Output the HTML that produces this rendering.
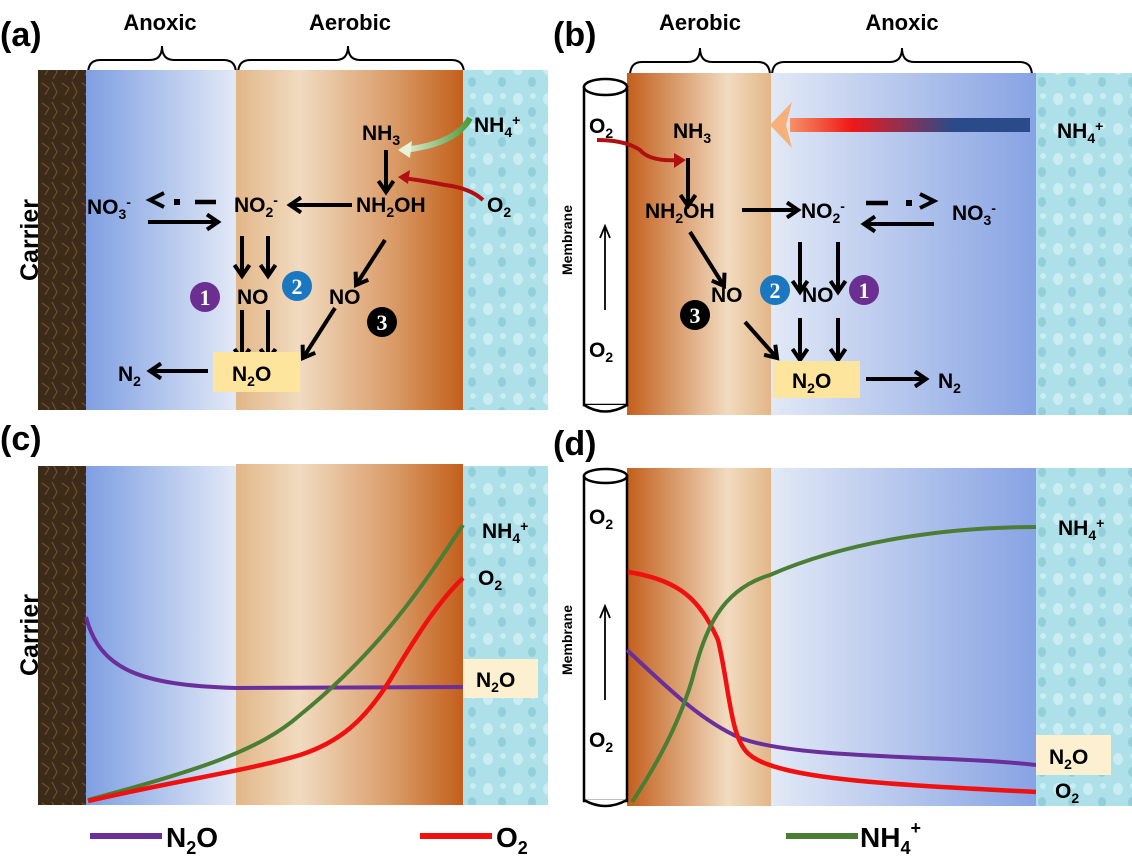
<!DOCTYPE html>
<html><head><meta charset="utf-8"><style>
html,body{margin:0;padding:0;background:#fff;}
svg{display:block;}
text{font-family:"Liberation Sans",Arial,sans-serif;font-weight:bold;fill:#000;}
</style></head><body>
<svg width="1132" height="866" viewBox="0 0 1132 866" xmlns="http://www.w3.org/2000/svg">
<defs>
<linearGradient id="blueA" x1="0" x2="1" y1="0" y2="0"><stop offset="0" stop-color="#7f9fe2"/><stop offset="1" stop-color="#e2e9f6"/></linearGradient>
<linearGradient id="blueB" x1="0" x2="1" y1="0" y2="0"><stop offset="0" stop-color="#e2e9f6"/><stop offset="1" stop-color="#87a3e4"/></linearGradient>
<linearGradient id="orA" x1="0" x2="1" y1="0" y2="0"><stop offset="0" stop-color="#e2b688"/><stop offset="0.28" stop-color="#f1dbc0"/><stop offset="0.7" stop-color="#d99a66"/><stop offset="1" stop-color="#c35f1c"/></linearGradient>
<linearGradient id="orB" x1="0" x2="1" y1="0" y2="0"><stop offset="0" stop-color="#c35f1c"/><stop offset="0.7" stop-color="#f1dbc0"/><stop offset="1" stop-color="#e2b688"/></linearGradient>
<linearGradient id="bigArr" gradientUnits="userSpaceOnUse" x1="775" x2="1030" y1="0" y2="0"><stop offset="0" stop-color="#f7b07a"/><stop offset="0.3" stop-color="#f01818"/><stop offset="0.7" stop-color="#2a4a8a"/><stop offset="1" stop-color="#2a4a8a"/></linearGradient>
<linearGradient id="grn" x1="1" x2="0" y1="0" y2="0"><stop offset="0" stop-color="#4a9a3a"/><stop offset="1" stop-color="#e8f2d8"/></linearGradient>
<pattern id="water" width="30" height="30" patternUnits="userSpaceOnUse">
<rect width="30" height="30" fill="#ade0e9"/>
<ellipse cx="8" cy="9" rx="5" ry="6" fill="#c9edf3"/><ellipse cx="22" cy="22" rx="4" ry="5" fill="#93cfdb"/><ellipse cx="23" cy="6" rx="3" ry="3" fill="#c9edf3"/>
</pattern>
<pattern id="bark" width="20" height="20" patternUnits="userSpaceOnUse">
<rect width="20" height="20" fill="#3e2a18"/><path d="M2 3 L9 8 L5 15 M12 2 L17 12 L13 19" stroke="#6a5034" stroke-width="1.2" fill="none"/>
</pattern>
<marker id="ah2" markerWidth="18" markerHeight="18" refX="13" refY="9" orient="auto" markerUnits="userSpaceOnUse">
<path d="M2 1.5 L13 9 L2 16.5" fill="none" stroke="#000" stroke-width="4"/>
</marker>
</defs>
<style>.a{stroke:#000;stroke-width:4;fill:none;marker-end:url(#ah2);} .sp{font-size:21px;} .sub{font-size:14px;}</style>

<!-- PANEL A -->
<text x="0" y="46" font-size="34">(a)</text>
<text x="160" y="30" font-size="22" text-anchor="middle">Anoxic</text>
<text x="350" y="30" font-size="22" text-anchor="middle">Aerobic</text>
<path d="M88 74 Q88 60 100 60 L150 60 Q162 60 162 46 Q162 60 174 60 L224 60 Q236 60 236 74" stroke="#000" stroke-width="2" fill="none"/>
<path d="M238 74 Q238 60 250 60 L336 60 Q348 60 348 46 Q348 60 360 60 L452 60 Q464 60 464 74" stroke="#000" stroke-width="2" fill="none"/>
<rect x="38" y="70" width="48" height="340" fill="url(#bark)"/>
<rect x="86" y="70" width="150" height="340" fill="url(#blueA)"/>
<rect x="236" y="70" width="227" height="340" fill="url(#orA)"/>
<rect x="463" y="70" width="85" height="340" fill="url(#water)"/>
<text transform="translate(38,240) rotate(-90)" font-size="25" text-anchor="middle">Carrier</text>
<text x="362" y="140" class="sp">NH<tspan class="sub" dy="5">3</tspan></text>
<text x="474" y="132" class="sp">NH<tspan class="sub" dy="5">4</tspan><tspan class="sub" dy="-12">+</tspan></text>
<text x="487" y="212" class="sp">O<tspan class="sub" dy="5">2</tspan></text>
<text x="356" y="212" class="sp">NH<tspan class="sub" dy="5">2</tspan><tspan dy="-5">OH</tspan></text>
<text x="234" y="212" class="sp">NO<tspan class="sub" dy="5">2</tspan><tspan class="sub" dy="-12">-</tspan></text>
<text x="87" y="214" class="sp">NO<tspan class="sub" dy="5">3</tspan><tspan class="sub" dy="-12">-</tspan></text>
<path d="M470 118 Q455 145 402 150" stroke="url(#grn)" stroke-width="6" fill="none"/>
<path d="M398 150 L412 141 L410 158 Z" fill="#e8f2d8"/>
<path d="M483 200 Q470 188 445 185 Q420 180 402 178" stroke="#b01010" stroke-width="4" fill="none"/>
<path d="M398 177 L410 170 L408 184 Z" fill="#b01010"/>
<line x1="386" y1="150" x2="386" y2="192" class="a"/>
<line x1="352" y1="205" x2="290" y2="205" class="a"/>
<line x1="148" y1="222" x2="218" y2="222" class="a"/>
<path d="M195 202 L216 202" stroke="#000" stroke-width="4.5"/>
<rect x="174" y="199" width="6" height="6" fill="#000"/>
<path d="M164 193 L150 200 L164 207" stroke="#000" stroke-width="4" fill="none"/>
<line x1="242" y1="236" x2="242" y2="276" class="a"/>
<line x1="268" y1="236" x2="268" y2="276" class="a"/>
<line x1="242" y1="310" x2="242" y2="360" class="a"/>
<line x1="268" y1="310" x2="268" y2="360" class="a"/>
<line x1="385" y1="240" x2="356" y2="285" class="a"/>
<line x1="335" y1="308" x2="303" y2="358" class="a"/>
<circle cx="205" cy="297" r="15" fill="#6a2f90"/><text x="205" y="305" font-size="22" text-anchor="middle" style="fill:#fff;font-family:'Liberation Serif',serif">1</text>
<circle cx="297" cy="286" r="15" fill="#1b77c0"/><text x="297" y="294" font-size="22" text-anchor="middle" style="fill:#fff;font-family:'Liberation Serif',serif">2</text>
<circle cx="382" cy="322" r="15" fill="#000"/><text x="382" y="330" font-size="22" text-anchor="middle" style="fill:#fff;font-family:'Liberation Serif',serif">3</text>
<text x="237" y="304" class="sp">NO</text>
<text x="329" y="304" class="sp">NO</text>
<rect x="213" y="352" width="87" height="40" fill="#fde59e"/>
<text x="232" y="381" class="sp">N<tspan class="sub" dy="5">2</tspan><tspan dy="-5">O</tspan></text>
<line x1="208" y1="371" x2="150" y2="371" class="a"/>
<text x="118" y="381" class="sp">N<tspan class="sub" dy="5">2</tspan></text>

<!-- PANEL B -->
<text x="553" y="46" font-size="34">(b)</text>
<text x="700" y="30" font-size="22" text-anchor="middle">Aerobic</text>
<text x="902" y="30" font-size="22" text-anchor="middle">Anoxic</text>
<path d="M630 76 Q630 62 642 62 L688 62 Q700 62 700 48 Q700 62 712 62 L758 62 Q770 62 770 76" stroke="#000" stroke-width="2" fill="none"/>
<path d="M772 76 Q772 62 784 62 L890 62 Q902 62 902 48 Q902 62 914 62 L1020 62 Q1032 62 1032 76" stroke="#000" stroke-width="2" fill="none"/>
<rect x="627" y="73" width="144" height="342" fill="url(#orB)"/>
<rect x="771" y="73" width="265" height="342" fill="url(#blueB)"/>
<rect x="1036" y="73" width="96" height="342" fill="url(#water)"/>
<rect x="584" y="87" width="43" height="318" fill="#fff" stroke="#000" stroke-width="2.5"/>
<ellipse cx="605.5" cy="87" rx="21.5" ry="8" fill="#fff" stroke="#000" stroke-width="2.5"/>
<path d="M584 405 Q605 418 627 405" fill="#fff" stroke="#000" stroke-width="2.5"/>
<text transform="translate(572,240) rotate(-90)" font-size="14" text-anchor="middle">Membrane</text>
<line x1="605" y1="310" x2="605" y2="228" stroke="#000" stroke-width="1.8"/>
<path d="M600 238 L605 226 L610 238" fill="none" stroke="#000" stroke-width="1.8"/>
<text x="589" y="133" class="sp">O<tspan class="sub" dy="5">2</tspan></text>
<text x="589" y="357" class="sp">O<tspan class="sub" dy="5">2</tspan></text>
<rect x="790" y="118" width="240" height="14" fill="url(#bigArr)"/>
<path d="M770 125 L792 102 L786 125 L792 148 Z" fill="#f7b07a"/>
<text x="673" y="138" class="sp">NH<tspan class="sub" dy="5">3</tspan></text>
<text x="1057" y="138" class="sp">NH<tspan class="sub" dy="5">4</tspan><tspan class="sub" dy="-12">+</tspan></text>
<path d="M597 140 Q625 140 640 150 Q650 162 680 160" stroke="#b01010" stroke-width="4" fill="none"/>
<path d="M686 160 L674 153 L674 168 Z" fill="#b01010"/>
<line x1="688" y1="158" x2="688" y2="206" class="a"/>
<text x="645" y="218" class="sp">NH<tspan class="sub" dy="5">2</tspan><tspan dy="-5">OH</tspan></text>
<line x1="742" y1="210" x2="798" y2="210" class="a"/>
<text x="801" y="218" class="sp">NO<tspan class="sub" dy="5">2</tspan><tspan class="sub" dy="-12">-</tspan></text>
<text x="952" y="220" class="sp">NO<tspan class="sub" dy="5">3</tspan><tspan class="sub" dy="-12">-</tspan></text>
<line x1="934" y1="224" x2="864" y2="224" class="a"/>
<path d="M866 203 L888 203" stroke="#000" stroke-width="4.5"/>
<rect x="906" y="200" width="6" height="6" fill="#000"/>
<path d="M920 194 L934 201 L920 208" stroke="#000" stroke-width="4" fill="none"/>
<line x1="800" y1="242" x2="800" y2="292" class="a"/>
<line x1="838" y1="242" x2="838" y2="292" class="a"/>
<line x1="800" y1="318" x2="800" y2="360" class="a"/>
<line x1="838" y1="318" x2="838" y2="360" class="a"/>
<line x1="690" y1="232" x2="724" y2="286" class="a"/>
<line x1="745" y1="322" x2="777" y2="358" class="a"/>
<circle cx="775" cy="290" r="15" fill="#1b77c0"/><text x="775" y="298" font-size="22" text-anchor="middle" style="fill:#fff;font-family:'Liberation Serif',serif">2</text>
<circle cx="864" cy="290" r="15" fill="#6a2f90"/><text x="864" y="298" font-size="22" text-anchor="middle" style="fill:#fff;font-family:'Liberation Serif',serif">1</text>
<circle cx="695" cy="315" r="15" fill="#000"/><text x="695" y="323" font-size="22" text-anchor="middle" style="fill:#fff;font-family:'Liberation Serif',serif">3</text>
<text x="711" y="302" class="sp">NO</text>
<text x="802" y="302" class="sp">NO</text>
<rect x="773" y="361" width="87" height="37" fill="#fde59e"/>
<text x="792" y="388" class="sp">N<tspan class="sub" dy="5">2</tspan><tspan dy="-5">O</tspan></text>
<line x1="866" y1="379" x2="926" y2="379" class="a"/>
<text x="938" y="388" class="sp">N<tspan class="sub" dy="5">2</tspan></text>

<!-- PANEL C -->
<text x="0" y="450" font-size="34">(c)</text>
<rect x="38" y="466" width="48" height="339" fill="url(#bark)"/>
<rect x="86" y="466" width="150" height="339" fill="url(#blueA)"/>
<rect x="236" y="464" width="227" height="341" fill="url(#orA)"/>
<rect x="463" y="466" width="85" height="339" fill="url(#water)"/>
<text transform="translate(38,635) rotate(-90)" font-size="25" text-anchor="middle">Carrier</text>
<path d="M86 617 C100 670 140 685 236 688 L463 687" stroke="#6a2f9a" stroke-width="4" fill="none"/>
<path d="M88 800 C200 770 260 750 300 715 C380 650 420 590 463 525" stroke="#4a7e34" stroke-width="4" fill="none"/>
<path d="M88 801 C180 780 250 770 300 755 C340 742 365 720 390 680 C420 630 440 600 463 578" stroke="#f01010" stroke-width="4.5" fill="none"/>
<text x="482" y="538" class="sp">NH<tspan class="sub" dy="5">4</tspan><tspan class="sub" dy="-12">+</tspan></text>
<text x="478" y="585" class="sp">O<tspan class="sub" dy="5">2</tspan></text>
<rect x="463" y="659" width="75" height="39" fill="#fdf0d0"/>
<text x="476" y="687" class="sp">N<tspan class="sub" dy="5">2</tspan><tspan dy="-5">O</tspan></text>

<!-- PANEL D -->
<text x="553" y="455" font-size="34">(d)</text>
<rect x="627" y="468" width="144" height="338" fill="url(#orB)"/>
<rect x="771" y="468" width="265" height="338" fill="url(#blueB)"/>
<rect x="1036" y="468" width="96" height="338" fill="url(#water)"/>
<rect x="584" y="476" width="43" height="325" fill="#fff" stroke="#000" stroke-width="2.5"/>
<ellipse cx="605.5" cy="476" rx="21.5" ry="7" fill="#fff" stroke="#000" stroke-width="2.5"/>
<path d="M584 800 Q605 812 627 800" fill="#fff" stroke="#000" stroke-width="2.5"/>
<text transform="translate(572,640) rotate(-90)" font-size="14" text-anchor="middle">Membrane</text>
<line x1="605" y1="700" x2="605" y2="608" stroke="#000" stroke-width="1.8"/>
<path d="M600 618 L605 606 L610 618" fill="none" stroke="#000" stroke-width="1.8"/>
<text x="589" y="524" class="sp">O<tspan class="sub" dy="5">2</tspan></text>
<text x="589" y="747" class="sp">O<tspan class="sub" dy="5">2</tspan></text>
<path d="M627 650 C670 690 700 720 740 738 C800 760 950 755 1036 765" stroke="#6a2f9a" stroke-width="4" fill="none"/>
<path d="M628 572 C680 580 700 600 718 640 C730 690 730 740 750 755 C780 780 900 785 1036 792" stroke="#f01010" stroke-width="4.5" fill="none"/>
<path d="M632 802 C660 760 680 720 692 680 C705 630 720 590 770 575 C850 540 950 527 1036 527" stroke="#4a7e34" stroke-width="4" fill="none"/>
<text x="1058" y="535" class="sp">NH<tspan class="sub" dy="5">4</tspan><tspan class="sub" dy="-12">+</tspan></text>
<rect x="1036" y="735" width="75" height="40" fill="#fdf0d0"/>
<text x="1049" y="764" class="sp">N<tspan class="sub" dy="5">2</tspan><tspan dy="-5">O</tspan></text>
<text x="1055" y="798" class="sp">O<tspan class="sub" dy="5">2</tspan></text>

<!-- LEGEND -->
<line x1="90" y1="836" x2="162" y2="836" stroke="#6a2f9a" stroke-width="6"/>
<text x="166" y="847" font-size="28">N<tspan font-size="18" dy="7">2</tspan><tspan dy="-7">O</tspan></text>
<line x1="420" y1="836" x2="492" y2="836" stroke="#f01010" stroke-width="6"/>
<text x="496" y="847" font-size="28">O<tspan font-size="18" dy="7">2</tspan></text>
<line x1="786" y1="836" x2="858" y2="836" stroke="#4a7e34" stroke-width="6"/>
<text x="860" y="847" font-size="28">NH<tspan font-size="18" dy="7">4</tspan><tspan font-size="18" dy="-20">+</tspan></text>
</svg>
</body></html>
